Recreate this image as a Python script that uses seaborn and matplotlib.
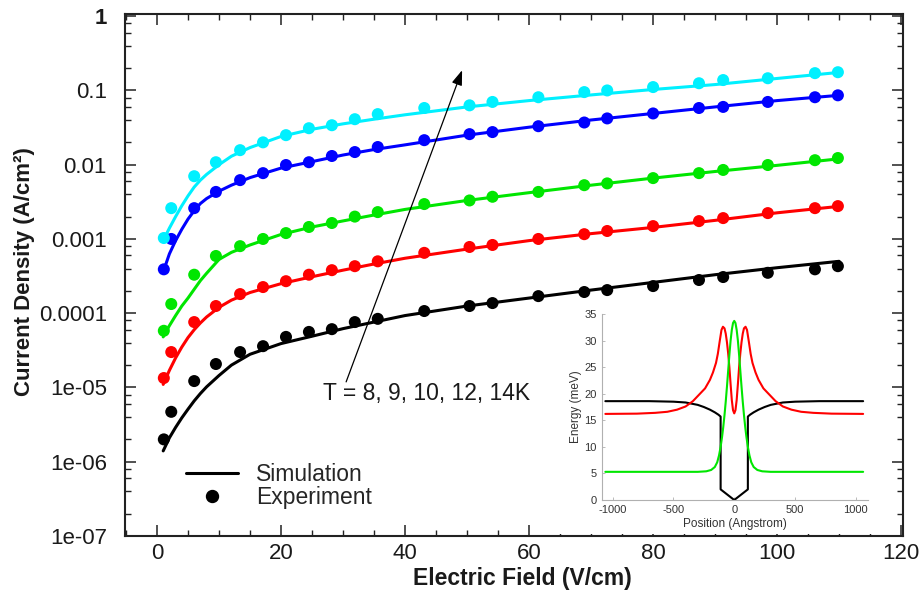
import numpy as np
import pandas as pd
import matplotlib
matplotlib.use('Agg')
import matplotlib.pyplot as plt
import seaborn as sns
from matplotlib.ticker import LogLocator, NullFormatter, MultipleLocator
from matplotlib.lines import Line2D

# ---------------- data: main chart ----------------
temps = ['8K', '9K', '10K', '12K', '14K']
colors = ['#000000', '#ff0000', '#00e600', '#0000ff', '#00f0ff']

field_exp = [1.1, 2.3, 6.0, 9.5, 13.4, 17.1, 20.8, 24.5, 28.2, 31.9, 35.6, 43.1,
             50.4, 54.1, 61.5, 68.9, 72.6, 80.0, 87.4, 91.3, 98.5, 106.1, 109.8]

J_exp_8K = [2.0e-6, 4.7e-6, 1.22e-5, 2.07e-5, 3.0e-5, 3.6e-5, 4.8e-5, 5.6e-5, 6.1e-5, 7.6e-5,
            8.4e-5, 1.07e-4, 1.25e-4, 1.37e-4, 1.70e-4, 1.93e-4, 2.05e-4, 2.32e-4, 2.8e-4,
            3.07e-4, 3.5e-4, 3.9e-4, 4.3e-4]
J_exp_9K = [1.34e-5, 3.0e-5, 7.6e-5, 1.25e-4, 1.81e-4, 2.25e-4, 2.7e-4, 3.3e-4, 3.8e-4, 4.3e-4,
            5.0e-4, 6.5e-4, 7.8e-4, 8.3e-4, 1.0e-3, 1.16e-3, 1.28e-3, 1.49e-3, 1.74e-3,
            1.91e-3, 2.23e-3, 2.6e-3, 2.77e-3]
J_exp_10K = [5.8e-5, 1.33e-4, 3.3e-4, 5.9e-4, 8.0e-4, 1.0e-3, 1.2e-3, 1.45e-3, 1.64e-3, 2.0e-3,
             2.3e-3, 2.95e-3, 3.3e-3, 3.7e-3, 4.3e-3, 5.3e-3, 5.6e-3, 6.6e-3, 7.7e-3,
             8.5e-3, 9.9e-3, 1.15e-2, 1.23e-2]
J_exp_12K = [3.9e-4, 1.0e-3, 2.6e-3, 4.3e-3, 6.2e-3, 7.7e-3, 9.9e-3, 1.08e-2, 1.31e-2, 1.48e-2,
             1.73e-2, 2.14e-2, 2.58e-2, 2.75e-2, 3.3e-2, 3.7e-2, 4.2e-2, 4.9e-2, 5.8e-2,
             6.0e-2, 7.0e-2, 8.1e-2, 8.6e-2]
J_exp_14K = [1.03e-3, 2.6e-3, 7.0e-3, 1.08e-2, 1.57e-2, 2.0e-2, 2.5e-2, 3.1e-2, 3.4e-2, 4.1e-2,
             4.8e-2, 5.8e-2, 6.3e-2, 7.0e-2, 8.1e-2, 9.5e-2, 0.100, 0.111, 0.125,
             0.138, 0.146, 0.171, 0.176]

field_sim = [1, 2, 3, 4, 5, 6, 7, 8, 10, 12, 15, 20, 25, 30, 35, 40, 50, 60, 70, 80, 90, 100, 110]

J_sim_8K = [1.4e-6, 2.1e-6, 2.9e-6, 3.9e-6, 5.1e-6, 6.6e-6, 8.3e-6, 1.02e-5, 1.45e-5, 2.0e-5,
            2.8e-5, 3.9e-5, 4.9e-5, 6.2e-5, 7.6e-5, 9.3e-5, 1.25e-4, 1.6e-4, 2.05e-4,
            2.6e-4, 3.3e-4, 4.1e-4, 5.0e-4]
J_sim_9K = [1.1e-5, 1.7e-5, 2.5e-5, 3.5e-5, 4.7e-5, 6.0e-5, 7.4e-5, 8.9e-5, 1.2e-4, 1.5e-4,
            1.9e-4, 2.5e-4, 3.1e-4, 3.8e-4, 4.6e-4, 5.5e-4, 7.3e-4, 9.5e-4, 1.18e-3,
            1.43e-3, 1.78e-3, 2.25e-3, 2.75e-3]
J_sim_10K = [4.8e-5, 6.8e-5, 9.3e-5, 1.25e-4, 1.6e-4, 2.1e-4, 2.75e-4, 3.45e-4, 5.3e-4, 6.6e-4,
             8.3e-4, 1.15e-3, 1.45e-3, 1.75e-3, 2.1e-3, 2.5e-3, 3.3e-3, 4.2e-3, 5.3e-3,
             6.6e-3, 8.1e-3, 9.8e-3, 1.2e-2]
J_sim_12K = [3.6e-4, 6.3e-4, 9.5e-4, 1.35e-3, 1.85e-3, 2.4e-3, 3.0e-3, 3.5e-3, 4.4e-3, 5.3e-3,
             6.7e-3, 9.0e-3, 1.1e-2, 1.35e-2, 1.6e-2, 1.85e-2, 2.5e-2, 3.2e-2, 4.0e-2,
             4.9e-2, 6.0e-2, 7.3e-2, 8.6e-2]
J_sim_14K = [9.5e-4, 1.4e-3, 2.0e-3, 2.8e-3, 3.8e-3, 5.0e-3, 6.2e-3, 7.4e-3, 1.0e-2, 1.3e-2,
             1.7e-2, 2.4e-2, 3.0e-2, 3.55e-2, 4.1e-2, 4.7e-2, 6.0e-2, 7.3e-2, 8.7e-2,
             0.103, 0.12, 0.145, 0.175]

xtick_vals = [0, 20, 40, 60, 80, 100, 120]
ytick_vals = [1e-7, 1e-6, 1e-5, 1e-4, 1e-3, 1e-2, 1e-1, 1]
ytick_labels = ['1e-07', '1e-06', '1e-05', '0.0001', '0.001', '0.01', '0.1', '1']

annot_text = 'T = 8, 9, 10, 12, 14K'
annot_text_pos = (26.8, 8.4e-6)
arrow_tail = (30.5, 1.19e-5)
arrow_tip = (49.2, 0.187)

# ---------------- data: inset ----------------
pos_black = [-1060, -700, -500, -400, -300, -250, -200, -160, -130, -112, -112, -56, 0,
             56, 112, 112, 130, 160, 200, 250, 300, 400, 500, 700, 1060]
E_black = [18.6, 18.6, 18.5, 18.35, 17.9, 17.5, 17.0, 16.5, 16.05, 15.7, 2.0, 1.0, 0.0,
           1.0, 2.0, 15.7, 16.05, 16.5, 17.0, 17.5, 17.9, 18.35, 18.5, 18.6, 18.6]

pos_red = [-1060, -800, -650, -550, -470, -400, -340, -290, -240, -200, -175, -150, -135,
           -120, -105, -93, -80, -70, -60, -50, -40, -30, -20, -10, 0,
           10, 20, 30, 40, 50, 60, 70, 80, 93, 105, 120, 135, 150, 175, 200, 240,
           290, 340, 400, 470, 550, 650, 800, 1060]
E_red = [16.2, 16.25, 16.4, 16.6, 17.0, 17.6, 18.6, 19.8, 21.0, 22.6, 24.0, 25.8, 27.5,
         29.8, 32.0, 32.6, 32.3, 31.3, 29.7, 27.6, 25.0, 21.8, 18.8, 16.9, 16.3,
         16.9, 18.8, 21.8, 25.0, 27.6, 29.7, 31.3, 32.3, 32.6, 32.0, 29.8, 27.5, 25.8,
         24.0, 22.6, 21.0, 19.8, 18.6, 17.6, 17.0, 16.6, 16.4, 16.25, 16.2]

pos_green = [-1060, -300, -230, -190, -160, -140, -125, -112, -100, -90, -80, -70, -60,
             -50, -40, -30, -20, -10, 0, 10, 20, 30, 40, 50, 60, 70, 80, 90, 100,
             112, 125, 140, 160, 190, 230, 300, 1060]
E_green = [5.3, 5.3, 5.4, 5.65, 6.2, 7.1, 8.4, 10.0, 11.9, 13.8, 16.0, 18.5, 21.3,
           24.3, 27.3, 30.0, 32.0, 33.3, 33.7, 33.3, 32.0, 30.0, 27.3, 24.3, 21.3, 18.5,
           16.0, 13.8, 11.9, 10.0, 8.4, 7.1, 6.2, 5.65, 5.4, 5.3, 5.3]

inset_xticks = [-1000, -500, 0, 500, 1000]
inset_yticks = [0, 5, 10, 15, 20, 25, 30, 35]

# ---------------- build tables ----------------
exp_series = [J_exp_8K, J_exp_9K, J_exp_10K, J_exp_12K, J_exp_14K]
sim_series = [J_sim_8K, J_sim_9K, J_sim_10K, J_sim_12K, J_sim_14K]
exp_df = pd.concat([pd.DataFrame({'E': field_exp, 'J': v, 'T': t})
                    for t, v in zip(temps, exp_series)], ignore_index=True)
sim_df = pd.concat([pd.DataFrame({'E': field_sim, 'J': v, 'T': t})
                    for t, v in zip(temps, sim_series)], ignore_index=True)
palette = dict(zip(temps, colors))

# ---------------- style ----------------
sns.set_theme(style='white')
plt.rcParams['font.family'] = ['Liberation Sans', 'DejaVu Sans']
plt.rcParams['axes.unicode_minus'] = False

W, H = 922, 596
fig = plt.figure(figsize=(W / 100, H / 100), dpi=100)
fig.patch.set_facecolor('white')

ax = fig.add_axes([125 / W, (H - 536) / H, 778 / W, 522 / H])
ax.set_facecolor('white')
ax.set_yscale('log')

sns.lineplot(data=sim_df, x='E', y='J', hue='T', palette=palette, estimator=None,
             sort=False, lw=2.2, legend=False, ax=ax, zorder=2)
sns.scatterplot(data=exp_df, x='E', y='J', hue='T', palette=palette, s=75,
                linewidth=0, legend=False, ax=ax, zorder=3)

ax.set_xlim(-5.16, 120.3)
ax.set_ylim(1e-7, 1.07)
ax.set_xticks(xtick_vals)
ax.xaxis.set_minor_locator(MultipleLocator(5))
ax.set_yticks(ytick_vals, ytick_labels)
ax.yaxis.set_minor_locator(LogLocator(base=10, subs=(2, 4, 6, 8), numticks=20))
ax.yaxis.set_minor_formatter(NullFormatter())
ax.get_yticklabels()[-1].set_fontweight('bold')

for s in ax.spines.values():
    s.set_visible(True)
    s.set_linewidth(1.5)
    s.set_color('#222222')
ax.tick_params(which='both', direction='in', top=True, right=True, bottom=True, left=True,
               colors='#222222', labelcolor='#1a1a1a', labelsize=16)
ax.tick_params(which='major', length=8, width=1.1)
ax.tick_params(which='minor', length=4, width=1.0)
ax.tick_params(axis='y', which='major', pad=13)
ax.tick_params(axis='x', which='major', pad=5)

ax.set_xlabel('Electric Field (V/cm)', fontsize=16.5, fontweight='bold', color='#1a1a1a')
ax.xaxis.set_label_coords(0.511, -0.060)
ax.set_ylabel('Current Density (A/cm²)', fontsize=16, fontweight='bold', color='#1a1a1a')
ax.yaxis.set_label_coords(-0.1157, 0.5057)

ax.text(annot_text_pos[0], annot_text_pos[1], annot_text, fontsize=16.5,
        ha='left', va='center', color='#1a1a1a')
ax.annotate('', xy=arrow_tip, xytext=arrow_tail,
            arrowprops=dict(arrowstyle='-|>,head_length=0.9,head_width=0.32',
                            color='black', lw=0.9, shrinkA=0, shrinkB=0,
                            mutation_scale=10))

handles = [Line2D([], [], color='black', lw=2.2),
           Line2D([], [], marker='o', ls='none', color='black', markersize=8.6)]
ax.legend(handles, ['Simulation', 'Experiment'], loc='upper left',
          bbox_to_anchor=(0.0784, 0.139), frameon=False, fontsize=16.5,
          handlelength=2.25, handletextpad=0.8, labelspacing=0.0,
          borderpad=0, borderaxespad=0)

# white background box for inset
box = fig.add_axes([555 / W, (H - 534) / H, (890 - 555) / W, (534 - 300) / H])
box.set_facecolor('white')
box.set_xticks([])
box.set_yticks([])
for s in box.spines.values():
    s.set_visible(False)

# inset
ins = fig.add_axes([601.7 / W, (H - 500) / H, 266.3 / W, 186 / H])
ins.set_facecolor('white')
sns.lineplot(x=pos_black, y=E_black, color='black', lw=1.5, sort=False,
             estimator=None, ax=ins)
sns.lineplot(x=pos_red, y=E_red, color='#ff0000', lw=1.5, sort=False,
             estimator=None, ax=ins)
sns.lineplot(x=pos_green, y=E_green, color='#00e600', lw=1.5, sort=False,
             estimator=None, ax=ins)
ins.set_xlim(-1090, 1100)
ins.set_ylim(0, 35)
ins.set_xticks(inset_xticks)
ins.set_yticks(inset_yticks)
ins.spines['top'].set_visible(False)
ins.spines['right'].set_visible(False)
for k in ['left', 'bottom']:
    ins.spines[k].set_visible(True)
    ins.spines[k].set_color('#b0b0b0')
    ins.spines[k].set_linewidth(0.8)
ins.tick_params(direction='in', length=2.5, width=0.6, colors='#b0b0b0',
                labelcolor='#333333', labelsize=8, pad=3.5, bottom=True, left=True)
ins.set_xlabel('Position (Angstrom)', fontsize=8.5, color='#333333', labelpad=2.5)
ins.set_ylabel('Energy (meV)', fontsize=8.5, color='#333333', labelpad=1.5)

fig.savefig('out.png', dpi=100, facecolor='white')
